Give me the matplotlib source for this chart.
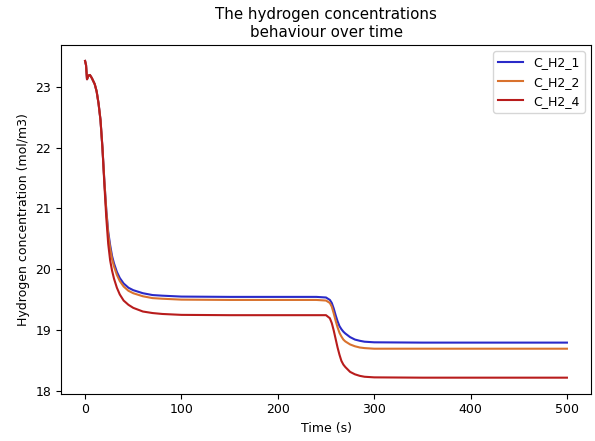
import numpy as np
import matplotlib
matplotlib.use("Agg")
import matplotlib.pyplot as plt

# ----------------------------------------------------------
# DATA
# ----------------------------------------------------------

time_s = [0, 1, 2, 3.5, 5, 7, 10, 12, 14, 16, 18, 20, 22, 24, 26, 28, 30,
          33, 36, 40, 45, 50, 60, 70, 80, 100, 150, 200, 240, 250, 254,
          256, 258, 260, 262, 264, 266, 268, 270, 275, 280, 285, 290, 300,
          350, 400, 500]

c_h2_1 = [23.42, 23.35, 23.12, 23.18, 23.19, 23.14, 23.04, 22.92, 22.72,
          22.45, 22.0, 21.45, 20.98, 20.62, 20.40, 20.22, 20.10,
          19.96, 19.86, 19.77, 19.70, 19.66, 19.61, 19.58, 19.57, 19.555,
          19.55, 19.55, 19.55, 19.54, 19.50,
          19.45, 19.36, 19.25, 19.15, 19.07, 19.02, 18.98, 18.95, 18.89,
          18.85, 18.83, 18.815, 18.805,
          18.80, 18.80, 18.80]

c_h2_2 = [23.42, 23.35, 23.12, 23.18, 23.19, 23.14, 23.04, 22.92, 22.72,
          22.45, 22.0, 21.45, 20.96, 20.58, 20.35, 20.17, 20.05,
          19.91, 19.81, 19.72, 19.65, 19.61, 19.56, 19.53, 19.52, 19.505,
          19.50, 19.50, 19.50, 19.49, 19.45,
          19.39, 19.28, 19.16, 19.05, 18.96, 18.90, 18.85, 18.82, 18.77,
          18.74, 18.72, 18.71, 18.70,
          18.70, 18.70, 18.70]

c_h2_4 = [23.42, 23.35, 23.12, 23.18, 23.19, 23.14, 23.04, 22.92, 22.72,
          22.45, 22.0, 21.40, 20.85, 20.42, 20.15, 19.98, 19.85,
          19.70, 19.59, 19.49, 19.42, 19.37, 19.31, 19.285, 19.27, 19.255,
          19.25, 19.25, 19.25, 19.25, 19.20,
          19.12, 19.00, 18.86, 18.72, 18.60, 18.50, 18.44, 18.40, 18.32,
          18.28, 18.255, 18.24, 18.23,
          18.225, 18.225, 18.225]

series_names = ["C_H2_1", "C_H2_2", "C_H2_4"]

# ----------------------------------------------------------
# PLOT
# ----------------------------------------------------------

plt.rcParams["font.size"] = 9

fig = plt.figure(figsize=(5.95, 4.41), dpi=100)
ax = fig.add_axes([0.1025, 0.1077, 0.8908, 0.790])

ax.plot(time_s, c_h2_1, color="#2a2ac8", linewidth=1.5, label=series_names[0])
ax.plot(time_s, c_h2_2, color="#d9722e", linewidth=1.5, label=series_names[1])
ax.plot(time_s, c_h2_4, color="#b81c1c", linewidth=1.5, label=series_names[2])

ax.set_xlabel("Time (s)")
ax.set_ylabel("Hydrogen concentration (mol/m3)")
ax.set_title("The hydrogen concentrations\nbehaviour over time", fontsize=10.8)
ax.legend(loc="upper right")

fig.savefig("out.png", dpi=100)
plt.close(fig)
